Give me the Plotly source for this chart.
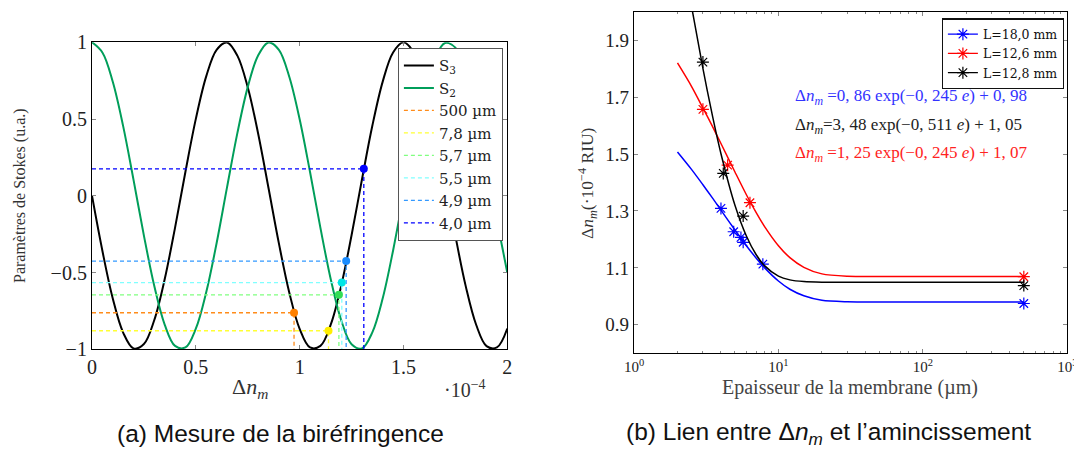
import plotly.graph_objects as go

W, H = 1082, 449
OFF = 8  # page body margin offset (browser default)

# ---------------- Left chart data (a) ----------------
dn_x = [0.00, 0.05, 0.10, 0.15, 0.20, 0.25, 0.30, 0.35, 0.40, 0.45, 0.50, 0.55, 0.60, 0.65,
        0.70, 0.75, 0.80, 0.85, 0.90, 0.95, 1.00, 1.05, 1.10, 1.15, 1.20, 1.25, 1.30, 1.35,
        1.40, 1.45, 1.50, 1.55, 1.60, 1.65, 1.70, 1.75, 1.80, 1.85, 1.90, 1.95, 2.00]
s3_vals = [0.000, -0.358, -0.669, -0.891, -0.994, -0.966, -0.809, -0.544, -0.207, 0.157, 0.501,
           0.778, 0.951, 0.999, 0.913, 0.707, 0.406, 0.051, -0.310, -0.630, -0.867, -0.988,
           -0.978, -0.838, -0.587, -0.257, 0.106, 0.456, 0.744, 0.934, 1.000, 0.933, 0.742,
           0.452, 0.103, -0.261, -0.590, -0.840, -0.979, -0.988, -0.865]
s2_vals = [1.000, 0.934, 0.743, 0.454, 0.104, -0.259, -0.588, -0.839, -0.978, -0.988, -0.866,
           -0.629, -0.309, 0.053, 0.408, 0.708, 0.914, 0.999, 0.951, 0.776, 0.499, 0.155,
           -0.209, -0.545, -0.810, -0.967, -0.994, -0.890, -0.668, -0.356, 0.002, 0.360, 0.671,
           0.892, 0.995, 0.965, 0.808, 0.543, 0.206, -0.158, -0.501]

thick_labels = ["500 µm", "7,8 µm", "5,7 µm", "5,5 µm", "4,9 µm", "4,0 µm"]
meas_dn = [0.973, 1.139, 1.189, 1.203, 1.224, 1.309]
meas_s3 = [-0.762, -0.879, -0.645, -0.565, -0.425, 0.176]
line_colors = ["#ff8c1a", "#ffff33", "#80ff80", "#80ffff", "#3399ff", "#0000ff"]
dot_colors = ["#ff8000", "#ffee00", "#33dd55", "#00e6e6", "#1a8cff", "#0000ff"]

# ---------------- Right chart data (b) ----------------
series_names = ["L=18,0 mm", "L=12,6 mm", "L=12,8 mm"]
series_colors = ["#0000ff", "#ff0000", "#000000"]
meas_e = [
    [4.0, 4.9, 5.5, 5.7, 7.8, 500],
    [3.0, 4.45, 6.35, 500],
    [3.0, 4.15, 5.7, 500],
]
meas_n = [
    [1.309, 1.227, 1.207, 1.190, 1.113, 0.975],
    [1.657, 1.461, 1.329, 1.069],
    [1.823, 1.432, 1.282, 1.038],
]
fit_e = [
    [2, 2.5, 3, 3.5, 4, 5, 6, 7, 8, 10, 12, 15, 20, 30, 50, 100, 500],
    [2, 2.5, 3, 3.5, 4, 5, 6, 7, 8, 10, 12, 15, 20, 30, 50, 100, 500],
    [2.5, 3, 3.5, 4, 5, 6, 7, 8, 10, 12, 15, 20, 50, 100, 500],
]
fit_n = [
    [1.507, 1.446, 1.392, 1.345, 1.303, 1.233, 1.178, 1.135, 1.101, 1.054, 1.025, 1.002,
     0.986, 0.981, 0.980, 0.980, 0.980],
    [1.820, 1.738, 1.662, 1.596, 1.537, 1.437, 1.357, 1.295, 1.246, 1.178, 1.136, 1.102,
     1.079, 1.071, 1.070, 1.070, 1.070],
    [2.020, 1.801, 1.632, 1.501, 1.320, 1.212, 1.147, 1.108, 1.071, 1.058, 1.052, 1.050,
     1.050, 1.050, 1.050],
]
fit_labels = [
    "Δ<i>n</i><sub><i>m</i></sub> =0, 86 exp(−0, 245 <i>e</i>) + 0, 98",
    "Δ<i>n</i><sub><i>m</i></sub>=3, 48 exp(−0, 511 <i>e</i>) + 1, 05",
    "Δ<i>n</i><sub><i>m</i></sub> =1, 25 exp(−0, 245 <i>e</i>) + 1, 07",
]
fit_label_colors = ["#3333ff", "#222222", "#ff2222"]

SERIF = "Liberation Serif"
SERIF_W = "DejaVu Serif"
SANS = "Liberation Sans"


def fx(px):
    return (px - OFF) / W


def fy(py):
    return 1 - (py - OFF) / H


fig = go.Figure()

# ---- left traces ----
fig.add_trace(go.Scatter(x=dn_x, y=s3_vals, mode="lines", name="S<sub>3</sub>",
                         line=dict(color="black", width=2, shape="spline", smoothing=1.0),
                         xaxis="x", yaxis="y", legend="legend"))
fig.add_trace(go.Scatter(x=dn_x, y=s2_vals, mode="lines", name="S<sub>2</sub>",
                         line=dict(color="#009e5a", width=2, shape="spline", smoothing=1.0),
                         xaxis="x", yaxis="y", legend="legend"))
for lab, xv, yv, lc in zip(thick_labels, meas_dn, meas_s3, line_colors):
    fig.add_trace(go.Scatter(x=[0, xv, xv], y=[yv, yv, -1], mode="lines", name=lab,
                             line=dict(color=lc, width=1.3, dash="4px,3px"),
                             xaxis="x", yaxis="y", legend="legend"))
for xv, yv, dc in zip(meas_dn, meas_s3, dot_colors):
    fig.add_trace(go.Scatter(x=[xv], y=[yv], mode="markers", showlegend=False,
                             marker=dict(color=dc, size=8), xaxis="x", yaxis="y"))

# ---- right traces ----
for name, col, fe, fn, me, mn in zip(series_names, series_colors, fit_e, fit_n, meas_e, meas_n):
    fig.add_trace(go.Scatter(x=fe, y=fn, mode="lines", showlegend=False,
                             line=dict(color=col, width=1.5, shape="spline", smoothing=0.8),
                             xaxis="x2", yaxis="y2"))
    fig.add_trace(go.Scatter(x=me, y=mn, mode="markers", showlegend=False,
                             marker=dict(color=col, size=10, symbol="asterisk-open",
                                         line=dict(color=col, width=1.2)),
                             xaxis="x2", yaxis="y2"))
    fig.add_trace(go.Scatter(x=[None], y=[None], mode="lines+markers", name=name,
                             line=dict(color=col, width=1.2),
                             marker=dict(color=col, size=10, symbol="asterisk-open",
                                         line=dict(color=col, width=1.2)),
                             xaxis="x2", yaxis="y2", legend="legend2"))

axis_common = dict(showline=True, linecolor="black", linewidth=1.2, mirror="ticks",
                   ticks="inside", ticklen=4, tickcolor="#888888", showgrid=False,
                   zeroline=False, automargin=False)

fig.update_layout(
    template="none",
    width=W, height=H, margin=dict(l=0, r=0, t=0, b=0, pad=0, autoexpand=False),
    paper_bgcolor="white", plot_bgcolor="white",
    xaxis=dict(domain=[fx(92), fx(507.3)], range=[0, 2], tickvals=[0, 0.5, 1, 1.5, 2],
               ticktext=["0", "0.5", "1", "1.5", "2"], anchor="y",
               tickfont=dict(family=SERIF, size=20, color="#222"), **axis_common),
    yaxis=dict(domain=[fy(349.3), fy(42.3)], range=[-1, 1],
               tickvals=[-1, -0.5, 0, 0.5, 1], ticktext=["−1", "−0.5", "0", "0.5", "1"],
               anchor="x", tickfont=dict(family=SERIF, size=20, color="#222"), **axis_common),
    xaxis2=dict(domain=[fx(634), fx(1067.3)], type="log", range=[0, 3],
                tickvals=[1, 10, 100, 1000],
                ticktext=["10<sup>0</sup>", "10<sup>1</sup>", "10<sup>2</sup>", "10<sup>3</sup>"],
                minor=dict(ticks="inside", ticklen=2.5, tickcolor="#888888",
                           tickvals=[2, 3, 4, 5, 6, 7, 8, 9, 20, 30, 40, 50, 60, 70, 80, 90,
                                     200, 300, 400, 500, 600, 700, 800, 900]),
                anchor="y2", tickfont=dict(family=SERIF, size=15, color="#222"), **axis_common),
    yaxis2=dict(domain=[fy(353.3), fy(11.7)], range=[0.8, 2.0],
                tickvals=[0.9, 1.1, 1.3, 1.5, 1.7, 1.9],
                ticktext=["0.9", "1.1", "1.3", "1.5", "1.7", "1.9"],
                anchor="x2", tickfont=dict(family=SERIF, size=19, color="#222"), **axis_common),
    legend=dict(x=fx(397.7), y=fy(48), xanchor="left", yanchor="top",
                bgcolor="white", bordercolor="#555555", borderwidth=1.2,
                font=dict(family=SERIF_W, size=15, color="#222"), tracegroupgap=0,
                itemwidth=30),
    legend2=dict(x=fx(941.7), y=fy(18.3), xanchor="left", yanchor="top",
                 bgcolor="white", bordercolor="#111111", borderwidth=1.2,
                 font=dict(family=SERIF_W, size=12.5, color="#111"), tracegroupgap=0,
                 itemwidth=30),
    showlegend=True,
)

annos = [
    dict(x=fx(20), y=fy(196), text="Paramètres de Stokes (u.a.)", textangle=-90,
         font=dict(family=SERIF, size=16, color="#333")),
    dict(x=fx(250), y=fy(388), text="Δ<i>n</i><sub><i>m</i></sub>",
         font=dict(family=SERIF, size=22, color="#333")),
    dict(x=fx(465), y=fy(389), text="·10<sup>−4</sup>",
         font=dict(family=SERIF, size=20, color="#333")),
    dict(x=fx(588), y=fy(183), text="Δ<i>n</i><sub><i>m</i></sub>(·10<sup>−4</sup> RIU)",
         textangle=-90, font=dict(family=SERIF, size=17.5, color="#333")),
    dict(x=fx(850), y=fy(387), text="Epaisseur de la membrane (µm)",
         font=dict(family=SERIF, size=20, color="#444")),
    dict(x=fx(280), y=fy(433), text="(a) Mesure de la biréfringence",
         font=dict(family=SANS, size=24.5, color="#111")),
    dict(x=fx(828), y=fy(433), text="(b) Lien entre Δ<i>n</i><sub><i>m</i></sub> et l’amincissement",
         font=dict(family=SANS, size=24.5, color="#111")),
]
for i, (lab, col) in enumerate(zip(fit_labels, fit_label_colors)):
    annos.append(dict(x=fx(793), y=fy(97 + 28.7 * i), text=lab, xanchor="left",
                      font=dict(family=SERIF, size=17, color=col)))
for a in annos:
    a.setdefault("xanchor", "center")
    a.update(xref="paper", yref="paper", yanchor="middle", showarrow=False)
fig.update_layout(annotations=annos)

fig.write_html("out.html")
